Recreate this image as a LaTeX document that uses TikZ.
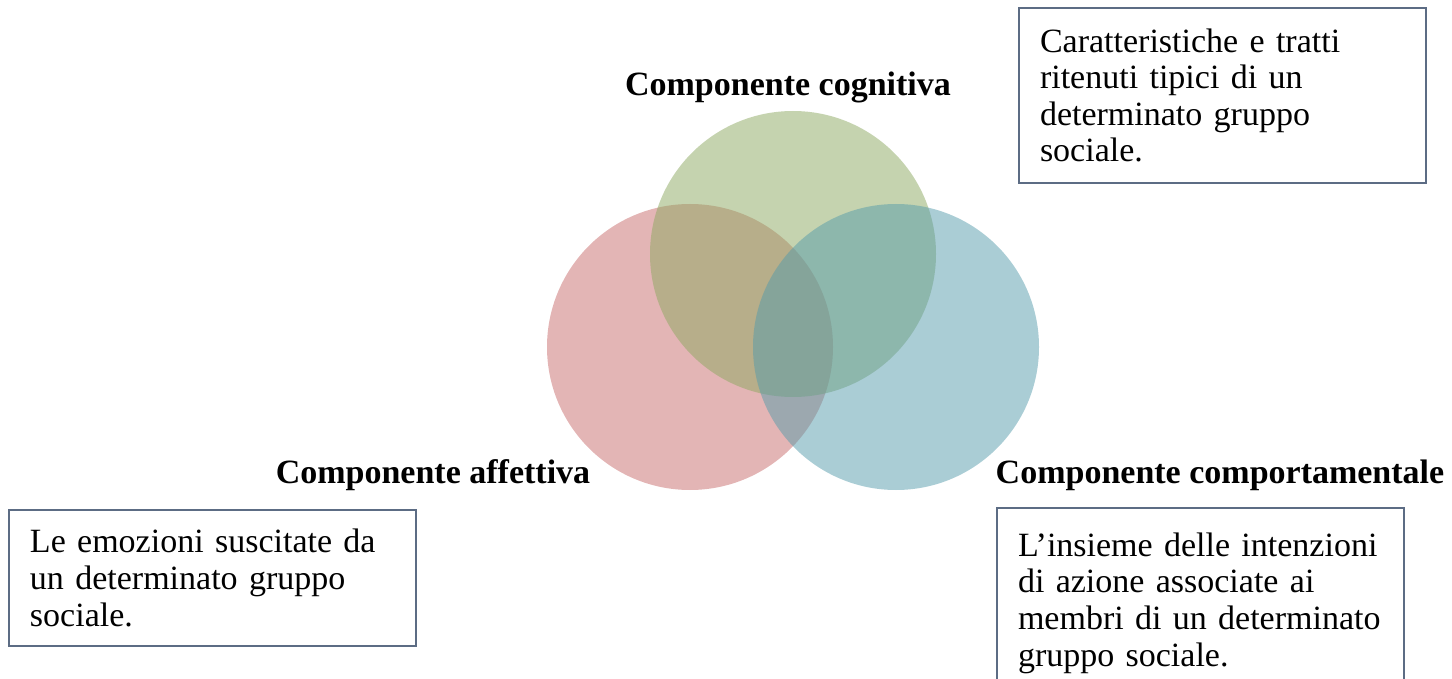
\documentclass[tikz,border=0pt]{standalone}
\usepackage{fontspec}
\setmainfont{Liberation Serif}
\usetikzlibrary{positioning}
\definecolor{affred}{RGB}{199,107,107}
\definecolor{coggreen}{RGB}{139,167,95}
\definecolor{compblue}{RGB}{85,155,171}
\definecolor{boxline}{RGB}{92,108,132}
\tikzset{
venn/.style={
  circle,
  inner sep=0pt,
  minimum size=143pt,
  draw=none,
  fill opacity=0.5
  },
tag/.style={
  anchor=base,
  font=\fontsize{17}{18.3}\selectfont\bfseries
  },
desc/.style={
  draw=boxline,
  line width=1.25pt,
  anchor=north west,
  align=left,
  text width=182.5pt,
  inner xsep=10.5pt,
  inner ysep=0pt,
  outer sep=0pt,
  font=\fontsize{17}{18.3}\selectfont
  }
}
\begin{document}
\begin{tikzpicture}[x=0.5pt,y=-0.5pt]
\useasboundingbox (0,0) rectangle (1452,679);
\node[venn,fill=affred] (aff) at (690,347) {};
\node[venn,fill=coggreen] (cog) at (793,254) {};
\node[venn,fill=compblue] (comp) at (896,347) {};
\node[tag] (cogtag) at (788,96) {Componente cognitiva};
\node[tag] (afftag) at (433,483) {Componente affettiva};
\node[tag] (comptag) at (1220,483) {Componente comportamentale};
\node[desc,minimum height=87.5pt] (cogbox) at (1019,8)
  {Caratteristiche e tratti\\ritenuti tipici di un\\determinato gruppo\\sociale.};
\node[desc,minimum height=68pt] (affbox) at (9,510)
  {Le emozioni suscitate da\\un determinato gruppo\\sociale.};
\node[desc,minimum height=95pt] (compbox) at (997,508)
  {L’insieme delle intenzioni\\di azione associate ai\\membri di un determinato\\gruppo sociale.};
\end{tikzpicture}
\end{document}
